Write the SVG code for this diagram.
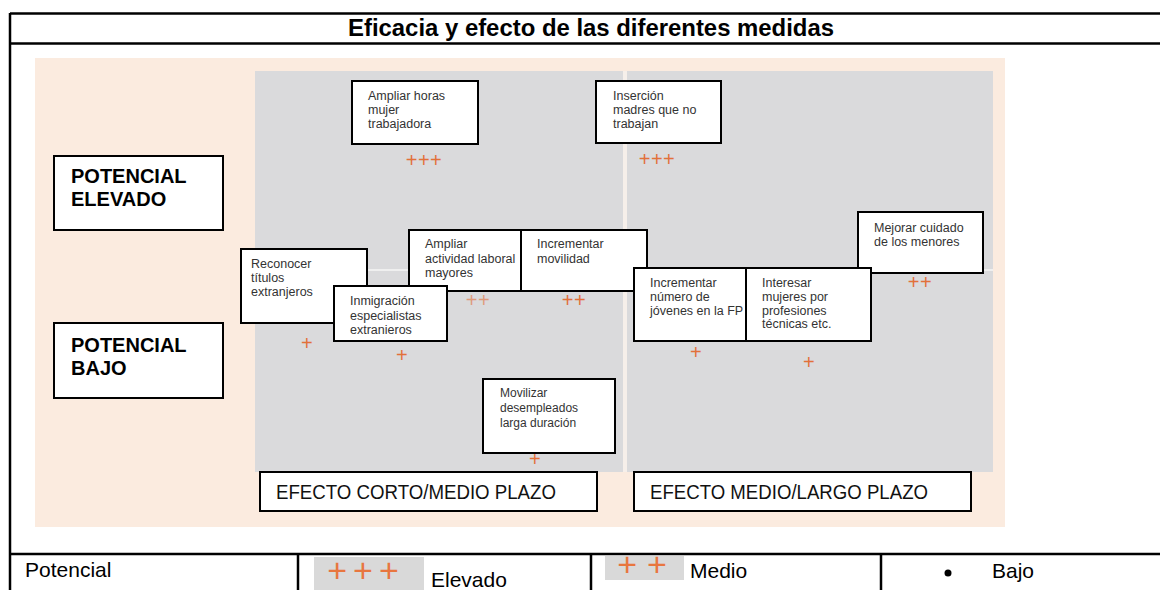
<svg xmlns="http://www.w3.org/2000/svg" width="1160" height="590" viewBox="0 0 1160 590">
<style>
  .frame{stroke:#000;stroke-width:2.5;fill:none}
  .box{fill:#fff;stroke:#000;stroke-width:2}
  .t{font-family:"Liberation Sans",Arial,sans-serif;font-size:12.5px;fill:#333}
  .tm{font-family:"Liberation Sans",Arial,sans-serif;font-size:12px;fill:#333}
  .big{font-family:"Liberation Sans",Arial,sans-serif;font-size:20px;font-weight:bold;fill:#000}
  .eff{font-family:"Liberation Sans",Arial,sans-serif;font-size:20px;fill:#111}
  .leg{font-family:"Liberation Sans",Arial,sans-serif;font-size:21px;fill:#000}
  .plus{font-family:"Liberation Sans",Arial,sans-serif;font-size:20px;fill:#E2703A;text-anchor:middle;letter-spacing:0.5px}
  .lplus{font-family:"Liberation Sans",Arial,sans-serif;font-size:34px;fill:#E8763F;text-anchor:middle}
</style>
<rect width="1160" height="590" fill="#fff"/>
<!-- table frame -->
<g id="table">
  <line class="frame" x1="10" y1="13.5" x2="1160" y2="13.5"/>
  <line class="frame" x1="10" y1="43.5" x2="1160" y2="43.5"/>
  <line class="frame" x1="10" y1="13" x2="10" y2="590"/>
  <line class="frame" x1="10" y1="554" x2="1160" y2="554"/>
  <line class="frame" x1="298" y1="554" x2="298" y2="590"/>
  <line class="frame" x1="591" y1="554" x2="591" y2="590"/>
  <line class="frame" x1="881" y1="554" x2="881" y2="590"/>
  <text x="591" y="36" text-anchor="middle" font-family="Liberation Sans, Arial, sans-serif" font-size="23" font-weight="bold" textLength="486" lengthAdjust="spacingAndGlyphs">Eficacia y efecto de las diferentes medidas</text>
</g>
<!-- background chart -->
<g id="chart-bg">
  <rect x="35" y="58" width="970" height="469" fill="#FBEBDF"/>
  <rect x="255" y="71" width="738" height="401" fill="#F6EFEA"/>
  <rect x="255" y="71" width="368" height="401" fill="#DADADC"/>
  <rect x="627" y="71" width="366" height="401" fill="#DADADC"/>
  <line x1="255" y1="270" x2="993" y2="270" stroke="#EFEFEF" stroke-width="2"/>
</g>
<g id="connectors"></g>
<!-- nodes -->
<g id="potencial-elevado">
  <rect class="box" x="54" y="156" width="169" height="74"/>
  <text class="big" x="71" y="183">POTENCIAL</text>
  <text class="big" x="71" y="206">ELEVADO</text>
</g>
<g id="potencial-bajo">
  <rect class="box" x="54" y="323" width="169" height="75"/>
  <text class="big" x="71" y="352">POTENCIAL</text>
  <text class="big" x="71" y="375">BAJO</text>
</g>
<g id="ampliar-horas">
  <rect class="box" x="352" y="81" width="126" height="63"/>
  <text class="t" x="368" y="100">Ampliar horas</text>
  <text class="t" x="368" y="114">mujer</text>
  <text class="t" x="368" y="128">trabajadora</text>
  <text class="plus" x="424" y="167">+++</text>
</g>
<g id="insercion">
  <rect class="box" x="596" y="81" width="125" height="62"/>
  <text class="t" x="613" y="100">Inserción</text>
  <text class="t" x="613" y="114">madres que no</text>
  <text class="t" x="613" y="128">trabajan</text>
  <text class="plus" x="657" y="166">+++</text>
</g>
<g id="reconocer">
  <rect class="box" x="241" y="249" width="126" height="74"/>
  <text class="t" x="251" y="268">Reconocer</text>
  <text class="t" x="251" y="282">títulos</text>
  <text class="t" x="251" y="296">extranjeros</text>
  <text class="plus" x="307" y="350">+</text>
</g>
<g id="ampliar-actividad">
  <rect class="box" x="409" y="230" width="112" height="61"/>
  <text class="t" x="425" y="248">Ampliar</text>
  <text class="t" x="425" y="263">actividad laboral</text>
  <text class="t" x="425" y="277">mayores</text>
  <text class="plus" x="478" y="307" opacity="0.6">++</text>
</g>
<g id="inmigracion">
  <rect class="box" x="334" y="286" width="113" height="55"/>
  <text class="t" x="350" y="305">Inmigración</text>
  <text class="t" x="350" y="320">especialistas</text>
  <text class="t" x="350" y="334">extranieros</text>
  <text class="plus" x="402" y="362">+</text>
</g>
<g id="incrementar-movilidad">
  <rect class="box" x="521" y="230" width="126" height="61"/>
  <text class="t" x="537" y="248">Incrementar</text>
  <text class="t" x="537" y="263">movilidad</text>
  <text class="plus" x="574" y="307">++</text>
</g>
<g id="mejorar-cuidado">
  <rect class="box" x="858" y="212" width="125" height="61"/>
  <text class="t" x="874" y="232">Mejorar cuidado</text>
  <text class="t" x="874" y="246">de los menores</text>
  <text class="plus" x="920" y="289">++</text>
</g>
<g id="incrementar-numero">
  <rect class="box" x="634" y="268" width="112" height="73"/>
  <text class="t" x="650" y="287">Incrementar</text>
  <text class="t" x="650" y="301">número de</text>
  <text class="t" x="650" y="315">jóvenes en la FP</text>
  <text class="plus" x="696" y="359">+</text>
</g>
<g id="interesar-mujeres">
  <rect class="box" x="746" y="268" width="125" height="73"/>
  <text class="t" x="762" y="287">Interesar</text>
  <text class="t" x="762" y="301">mujeres por</text>
  <text class="t" x="762" y="314.5">profesiones</text>
  <text class="t" x="762" y="328">técnicas etc.</text>
  <text class="plus" x="809" y="369">+</text>
</g>
<g id="movilizar">
  <rect class="box" x="483" y="379" width="132" height="74"/>
  <text class="tm" x="500" y="397">Movilizar</text>
  <text class="tm" x="500" y="412">desempleados</text>
  <text class="tm" x="500" y="427">larga duración</text>
  <text class="plus" x="535" y="466">+</text>
</g>
<g id="efecto-corto">
  <rect class="box" x="260" y="472" width="337" height="39"/>
  <text class="eff" x="276" y="499" textLength="280" lengthAdjust="spacingAndGlyphs">EFECTO CORTO/MEDIO PLAZO</text>
</g>
<g id="efecto-medio">
  <rect class="box" x="634" y="472" width="337" height="39"/>
  <text class="eff" x="650" y="499" textLength="278" lengthAdjust="spacingAndGlyphs">EFECTO MEDIO/LARGO PLAZO</text>
</g>
<!-- legend -->
<g id="legend">
  <text class="leg" x="25" y="577">Potencial</text>
  <rect x="314" y="557" width="110" height="33" fill="#D9D9D9"/>
  <text class="lplus" x="366" y="582" letter-spacing="6">+++</text>
  <text class="leg" x="431" y="587">Elevado</text>
  <rect x="605" y="556" width="79" height="24" fill="#D9D9D9"/>
  <text class="lplus" x="647" y="576" letter-spacing="10">++</text>
  <text class="leg" x="690" y="578">Medio</text>
  <circle cx="948" cy="573" r="3.5" fill="#000"/>
  <text class="leg" x="992" y="578">Bajo</text>
</g>
</svg>
